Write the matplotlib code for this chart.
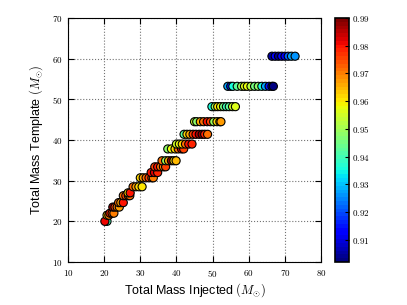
import matplotlib
matplotlib.use('Agg')
import matplotlib.pyplot as plt
from matplotlib.ticker import FuncFormatter

plt.rcParams['font.family'] = ['Liberation Sans', 'DejaVu Sans']
plt.rcParams['mathtext.fontset'] = 'cm'

# template total mass of each row of points
tmpl_mass = [20.0, 21.5, 22.0, 23.5, 24.6, 26.3, 27.0, 28.5, 30.7, 32.0,
             33.4, 34.9, 37.8, 39.0, 41.4, 44.5, 48.2, 53.2, 60.6]

# injected total mass per row
inj_rows = [
    [20.8, 20.2],
    [20.8, 21.3],
    [21.6, 22.2, 22.7],
    [22.4, 23.0, 23.6, 24.2],
    [24.0, 24.6, 25.3],
    [25.3, 26.0, 26.7, 27.1],
    [26.6, 27.2],
    [28.0, 28.8, 29.6, 30.5],
    [30.0, 30.8, 31.6, 32.4, 33.2, 33.6],
    [33.0, 33.9, 34.8],
    [34.0, 34.8, 35.6, 36.4, 37.0],
    [36.0, 37.0, 37.8, 38.6, 39.3, 39.9],
    [37.6, 38.6, 39.6, 40.5, 41.4, 42.0],
    [40.0, 40.8, 41.6, 42.5, 43.4, 44.3],
    [42.1, 42.9, 43.7, 44.6, 45.4, 46.3, 47.1, 47.8, 48.6],
    [45.0, 45.6, 46.6, 47.5, 48.5, 49.4, 50.3, 51.2, 52.0, 52.3],
    [49.8, 50.7, 51.4, 52.2, 53.0, 53.8, 54.6, 55.5, 56.3],
    [54.2, 55.0, 55.6, 56.8, 58.0, 58.8, 59.6, 60.6, 61.6, 62.6, 63.6,
     64.6, 65.6, 66.4, 66.8],
    [66.4, 67.3, 68.2, 69.1, 70.0, 70.9, 71.8, 72.8],
]

# match value per point
match_rows = [
    [0.940, 0.981],
    [0.962, 0.970],
    [0.979, 0.974, 0.970],
    [0.986, 0.975, 0.970, 0.968],
    [0.972, 0.968, 0.980],
    [0.972, 0.975, 0.970, 0.972],
    [0.962, 0.980],
    [0.972, 0.968, 0.962, 0.961],
    [0.962, 0.968, 0.972, 0.976, 0.972, 0.970],
    [0.980, 0.982, 0.978],
    [0.975, 0.980, 0.972, 0.970, 0.975],
    [0.972, 0.950, 0.966, 0.988, 0.962, 0.965],
    [0.948, 0.958, 0.962, 0.972, 0.982, 0.975],
    [0.955, 0.958, 0.962, 0.972, 0.980, 0.978],
    [0.942, 0.962, 0.966, 0.975, 0.980, 0.985, 0.988, 0.978, 0.972],
    [0.955, 0.948, 0.966, 0.972, 0.980, 0.975, 0.950, 0.962, 0.966, 0.968],
    [0.935, 0.950, 0.960, 0.958, 0.945, 0.940, 0.942, 0.955, 0.956],
    [0.928, 0.915, 0.935, 0.942, 0.950, 0.957, 0.958, 0.952, 0.945, 0.948,
     0.935, 0.928, 0.915, 0.905, 0.903],
    [0.905, 0.912, 0.904, 0.914, 0.912, 0.922, 0.928, 0.926],
]

x, y, c = [], [], []
for t, xs, ms in zip(tmpl_mass, inj_rows, match_rows):
    x += xs
    y += [t] * len(xs)
    c += ms

fig = plt.figure(figsize=(4.07, 3.05), dpi=100)
ax = fig.add_axes([0.167, 0.141, 0.622, 0.8])
cax = fig.add_axes([0.823, 0.141, 0.0344, 0.8])

cmap = plt.get_cmap('jet', 64)
sc = ax.scatter(x, y, c=c, s=34, cmap=cmap, vmin=0.902, vmax=0.990,
                edgecolors='black', linewidths=0.8, zorder=3)

ax.set_xlim(10, 80)
ax.set_ylim(10, 70)
ax.grid(True, linestyle=':', color='0.45', linewidth=0.8)
ax.set_axisbelow(True)
ax.tick_params(direction='in', top=True, right=True, length=4, labelsize=6.5, pad=4)
mathfmt = FuncFormatter(lambda v, p: r'$%g$' % v)
ax.xaxis.set_major_formatter(mathfmt)
ax.yaxis.set_major_formatter(mathfmt)
ax.set_xlabel(r'Total Mass Injected $(M_{\odot})$', fontsize=9, labelpad=2)
ax.set_ylabel(r'Total Mass Template $(M_{\odot})$', fontsize=9, labelpad=5)

cb = fig.colorbar(sc, cax=cax, ticks=[0.91, 0.92, 0.93, 0.94, 0.95, 0.96, 0.97, 0.98, 0.99])
cb.ax.yaxis.set_major_formatter(FuncFormatter(lambda v, p: r'$%.2f$' % v))
cb.ax.tick_params(labelsize=6.5, direction='in', length=3, pad=2)
cb.outline.set_linewidth(1.2)

fig.savefig('out.png', dpi=100)
